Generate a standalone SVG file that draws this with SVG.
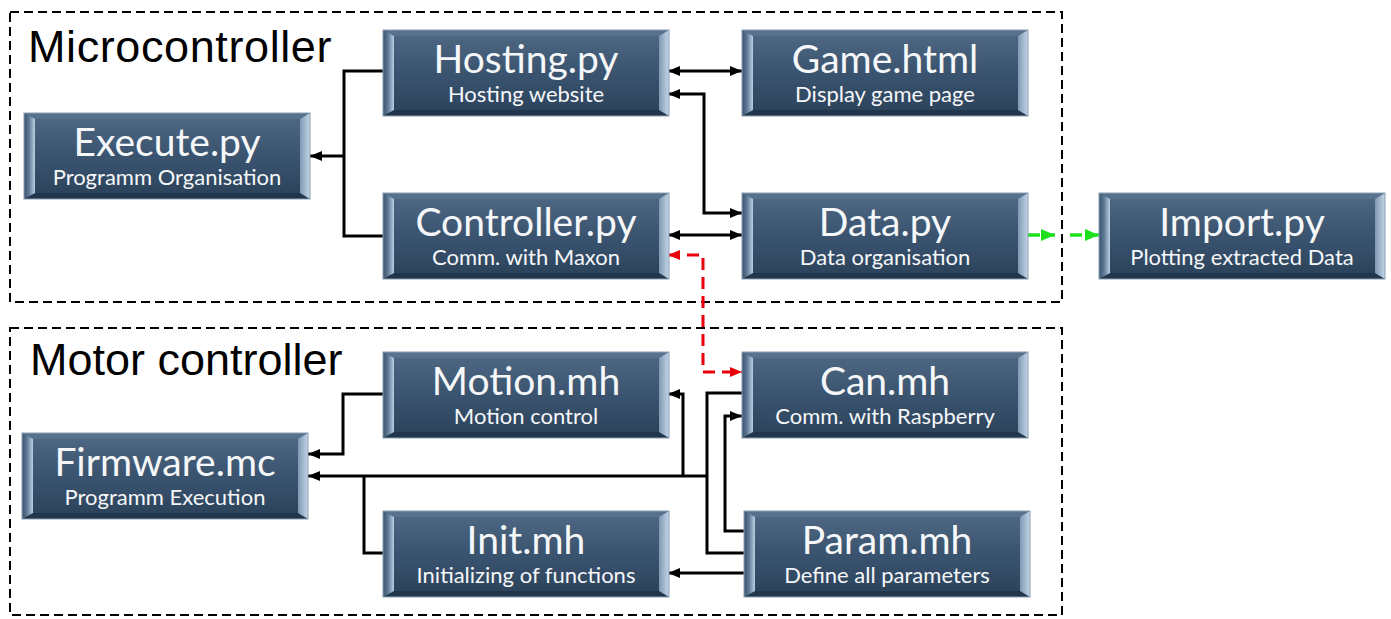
<svg xmlns="http://www.w3.org/2000/svg" xmlns:xlink="http://www.w3.org/1999/xlink" width="1391" height="619" viewBox="0 0 1391 619">
  <style>
    .frame { fill: none; stroke: #000; stroke-width: 2; stroke-dasharray: 9 5; }
    .section { font-family: "Liberation Sans", Arial, sans-serif; font-size: 45px; fill: #000; }
    .title { font-family: Lato, "Open Sans", sans-serif; font-size: 39px; fill: #f5f7f9; text-anchor: middle; }
    .sub { font-family: Lato, "Open Sans", sans-serif; font-size: 22px; fill: #f5f7f9; text-anchor: middle; }
    .link { fill: none; stroke: #000; stroke-width: 3; }
    .red { fill: none; stroke: #e8000b; stroke-width: 3; stroke-dasharray: 12 7; }
    .green { fill: none; stroke: #1fe01f; stroke-width: 3.5; stroke-dasharray: 12 7; }
  </style>
  <defs>
    <linearGradient id="face" x1="0" y1="0" x2="0" y2="1">
      <stop offset="0" stop-color="#506a85"/>
      <stop offset="0.5" stop-color="#3a5470"/>
      <stop offset="1" stop-color="#2b4159"/>
    </linearGradient>
    <linearGradient id="bevL" x1="0" y1="0" x2="1" y2="0">
      <stop offset="0" stop-color="#3b546e"/>
      <stop offset="0.45" stop-color="#5d7894"/>
      <stop offset="1" stop-color="#bcd0e4"/>
    </linearGradient>
    <linearGradient id="bevR" x1="0" y1="0" x2="1" y2="0">
      <stop offset="0" stop-color="#7f99b3"/>
      <stop offset="1" stop-color="#c4d6e7"/>
    </linearGradient>
    <!-- bevelled node tile, 286 x 86 -->
    <g id="box">
      <rect x="0" y="0" width="286" height="86" fill="url(#face)"/>
      <polygon points="0,0 286,0 276,6 11,6" fill="#58728d"/>
      <polygon points="11,80 276,80 286,86 0,86" fill="#22364b"/>
      <polygon points="0,0 11,6 11,80 0,86" fill="url(#bevL)"/>
      <polygon points="286,0 276,6 276,80 286,86" fill="url(#bevR)"/>
      <rect x="0" y="0" width="286" height="86" fill="none" stroke="#8a9fb3" stroke-width="1"/>
    </g>
    <marker id="ah" viewBox="0 0 12 10" refX="12" refY="5" markerWidth="12" markerHeight="10" markerUnits="userSpaceOnUse" orient="auto-start-reverse">
      <path d="M0,0 L12,5 L0,10 z" fill="#000"/>
    </marker>
    <marker id="ahRed" viewBox="0 0 12 10" refX="12" refY="5" markerWidth="12" markerHeight="10" markerUnits="userSpaceOnUse" orient="auto-start-reverse">
      <path d="M0,0 L12,5 L0,10 z" fill="#e8000b"/>
    </marker>
    <marker id="ahGreen" viewBox="0 0 14 12" refX="14" refY="6" markerWidth="14" markerHeight="12" markerUnits="userSpaceOnUse" orient="auto-start-reverse">
      <path d="M0,0 L14,6 L0,12 z" fill="#1fe01f"/>
    </marker>
  </defs>

  <rect width="1391" height="619" fill="#fff"/>

  <!-- subsystem frames -->
  <g id="frames">
    <rect class="frame" x="10" y="12" width="1052" height="290"/>
    <text class="section" x="28" y="62" letter-spacing="0.6">Microcontroller</text>
    <rect class="frame" x="10" y="328" width="1052" height="287"/>
    <text class="section" x="30" y="375">Motor controller</text>
  </g>

  <!-- connectors -->
  <g id="connectors">
    <polyline class="link" points="383,71 344,71 344,236 383,236"/>
    <line class="link" x1="344" y1="156" x2="310" y2="156" marker-end="url(#ah)"/>
    <line class="link" x1="668" y1="71" x2="742" y2="71" marker-start="url(#ah)" marker-end="url(#ah)"/>
    <polyline class="link" points="668,94 704,94 704,213 742,213" marker-start="url(#ah)" marker-end="url(#ah)"/>
    <line class="link" x1="668" y1="235" x2="742" y2="235" marker-start="url(#ah)" marker-end="url(#ah)"/>
    <polyline class="red" points="668,255 703,255 703,372 742,372" marker-start="url(#ahRed)" marker-end="url(#ahRed)"/>
    <line class="green" x1="1028" y1="235" x2="1055" y2="235" marker-end="url(#ahGreen)"/>
    <line class="green" x1="1070" y1="235" x2="1099" y2="235" marker-end="url(#ahGreen)"/>

    <polyline class="link" points="383,394 343,394 343,454 308,454" marker-end="url(#ah)"/>
    <line class="link" x1="707" y1="476" x2="308" y2="476" marker-end="url(#ah)"/>
    <polyline class="link" points="364,476 364,553 383,553"/>
    <polyline class="link" points="683,476 683,394 668,394" marker-end="url(#ah)"/>
    <polyline class="link" points="742,393 707,393 707,553 744,553"/>
    <polyline class="link" points="744,531 725,531 725,416 742,416" marker-end="url(#ah)"/>
    <line class="link" x1="744" y1="573" x2="668" y2="573" marker-end="url(#ah)"/>
  </g>

  <!-- microcontroller nodes -->
  <g id="node-hosting">
    <use xlink:href="#box" x="383" y="30"/>
    <text class="title" x="526" y="73">Hosting.py</text>
    <text class="sub" x="526" y="102">Hosting website</text>
  </g>
  <g id="node-game">
    <use xlink:href="#box" x="742" y="30"/>
    <text class="title" x="885" y="73">Game.html</text>
    <text class="sub" x="885" y="102">Display game page</text>
  </g>
  <g id="node-execute">
    <use xlink:href="#box" x="24" y="113"/>
    <text class="title" x="167" y="156">Execute.py</text>
    <text class="sub" x="167" y="185">Programm Organisation</text>
  </g>
  <g id="node-controller">
    <use xlink:href="#box" x="383" y="193"/>
    <text class="title" x="526" y="236">Controller.py</text>
    <text class="sub" x="526" y="265">Comm. with Maxon</text>
  </g>
  <g id="node-data">
    <use xlink:href="#box" x="742" y="193"/>
    <text class="title" x="885" y="236">Data.py</text>
    <text class="sub" x="885" y="265">Data organisation</text>
  </g>
  <g id="node-import">
    <use xlink:href="#box" x="1099" y="193"/>
    <text class="title" x="1242" y="236">Import.py</text>
    <text class="sub" x="1242" y="265">Plotting extracted Data</text>
  </g>

  <!-- motor controller nodes -->
  <g id="node-motion">
    <use xlink:href="#box" x="383" y="352"/>
    <text class="title" x="526" y="395">Motion.mh</text>
    <text class="sub" x="526" y="424">Motion control</text>
  </g>
  <g id="node-can">
    <use xlink:href="#box" x="742" y="352"/>
    <text class="title" x="885" y="395">Can.mh</text>
    <text class="sub" x="885" y="424">Comm. with Raspberry</text>
  </g>
  <g id="node-firmware">
    <use xlink:href="#box" x="22" y="433"/>
    <text class="title" x="165" y="476">Firmware.mc</text>
    <text class="sub" x="165" y="505">Programm Execution</text>
  </g>
  <g id="node-init">
    <use xlink:href="#box" x="383" y="511"/>
    <text class="title" x="526" y="554">Init.mh</text>
    <text class="sub" x="526" y="583">Initializing of functions</text>
  </g>
  <g id="node-param">
    <use xlink:href="#box" x="744" y="511"/>
    <text class="title" x="887" y="554">Param.mh</text>
    <text class="sub" x="887" y="583">Define all parameters</text>
  </g>
</svg>
